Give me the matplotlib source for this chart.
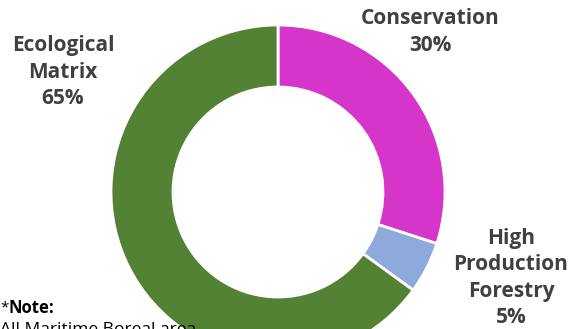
import matplotlib
matplotlib.use("Agg")
import matplotlib.pyplot as plt

categories = ["Conservation", "High\nProduction\nForestry", "Ecological\nMatrix"]
shares = [30, 5, 65]
colors = ["#D535C9", "#8EA9DB", "#548235"]

plt.rcParams["font.family"] = ["Open Sans", "DejaVu Sans"]
text_color = "#404040"

fig = plt.figure(figsize=(5.75, 3.29), dpi=100)
ax = fig.add_axes([0, 0, 1, 1])

# donut, clockwise from 12 o'clock
ax.pie(shares, colors=colors, startangle=90, counterclock=False,
       center=(278, 137), radius=167,
       wedgeprops=dict(width=62, edgecolor="white", linewidth=2))

ax.set_xlim(0, 575)
ax.set_ylim(0, 329)
ax.set_aspect("equal")
ax.axis("off")

label_pos = [(430, 297), (511, 51), (63, 257)]
for name, val, (x, y) in zip(categories, shares, label_pos):
    ax.text(x, y, f"{name}\n{val}%", ha="center", va="center",
            fontsize=15, fontweight="bold", color=text_color, linespacing=1.32)

# footnote
star = ax.text(0, 21, "*", fontsize=11, color="black", ha="left", va="center")
fig.canvas.draw()
x1 = ax.transData.inverted().transform(star.get_window_extent().p1)[0]
ax.text(x1 + 0.5, 21, "Note:", fontsize=12, fontweight="bold", color="black",
        ha="left", va="center")
ax.text(0, -5, "All Maritime Boreal area", fontsize=12.5, color="black",
        ha="left", va="baseline", clip_on=False)

fig.savefig("out.png", dpi=100)
